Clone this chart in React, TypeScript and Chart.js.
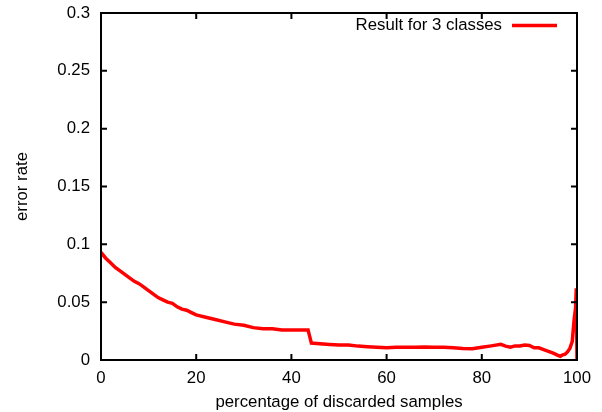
import React, { useEffect, useRef } from "react";
import { Chart, registerables } from "chart.js";

Chart.register(...registerables);

const discardedPct = [
  0, 1, 2, 3, 4, 5, 6, 7, 8, 9, 10, 11, 12, 13, 14, 15, 16, 17, 18, 19, 20,
  22, 24, 26, 28, 30, 32, 34, 36, 38, 40, 42, 43.5, 44.2, 46, 48, 50, 52, 54,
  56, 58, 60, 62, 64, 66, 68, 70, 72, 74, 76, 78, 80, 82, 84, 85, 86, 87, 88,
  89, 90, 91, 92, 93, 94, 95, 96, 96.5, 97, 97.5, 98, 98.5, 99, 99.4, 99.7,
  99.85, 100,
];

const errorRate = [
  0.093, 0.088, 0.084, 0.08, 0.077, 0.074, 0.071, 0.068, 0.066, 0.063, 0.06,
  0.057, 0.054, 0.052, 0.05, 0.049, 0.046, 0.044, 0.043, 0.041, 0.039, 0.037,
  0.035, 0.033, 0.031, 0.03, 0.028, 0.027, 0.027, 0.026, 0.026, 0.026, 0.026,
  0.0146, 0.014, 0.0135, 0.013, 0.013, 0.012, 0.0115, 0.011, 0.0105, 0.011,
  0.011, 0.011, 0.0112, 0.011, 0.011, 0.0105, 0.01, 0.0098, 0.011, 0.0122,
  0.0135, 0.012, 0.011, 0.0122, 0.0122, 0.013, 0.0125, 0.0105, 0.0105, 0.009,
  0.0075, 0.006, 0.004, 0.0032, 0.0045, 0.005, 0.007, 0.01, 0.016, 0.035,
  0.045, 0.062, 0,
];

const seriesLabel = "Result for 3 classes";
const xTitle = "percentage of discarded samples";
const yTitle = "error rate";

const FONT = "'Liberation Sans', Arial, sans-serif";
const FS = 16.8;

const framePlugin = {
  id: "gnuplotFrame",
  afterDatasetsDraw(chart: any) {
    const { ctx, chartArea: a, scales } = chart;
    ctx.save();
    ctx.strokeStyle = "#000";
    ctx.lineWidth = 2;
    ctx.strokeRect(a.left, a.top, a.right - a.left, a.bottom - a.top);
    const tl = 6;
    ctx.beginPath();
    scales.x.ticks.forEach((t: any) => {
      const px = scales.x.getPixelForValue(t.value);
      ctx.moveTo(px, a.bottom);
      ctx.lineTo(px, a.bottom - tl);
      ctx.moveTo(px, a.top);
      ctx.lineTo(px, a.top + tl);
    });
    scales.y.ticks.forEach((t: any) => {
      const py = scales.y.getPixelForValue(t.value);
      ctx.moveTo(a.left, py);
      ctx.lineTo(a.left + tl, py);
      ctx.moveTo(a.right, py);
      ctx.lineTo(a.right - tl, py);
    });
    ctx.stroke();
    // legend
    ctx.font = `${FS}px ${FONT}`;
    ctx.fillStyle = "#000";
    ctx.textAlign = "right";
    ctx.textBaseline = "middle";
    const ly = a.top + 12.5;
    ctx.fillText(seriesLabel, a.right - 75, ly);
    ctx.strokeStyle = "#ff0000";
    ctx.lineWidth = 3.5;
    ctx.beginPath();
    ctx.moveTo(a.right - 65, ly);
    ctx.lineTo(a.right - 20, ly);
    ctx.stroke();
    ctx.restore();
  },
};

export default function App() {
  const ref = useRef<HTMLCanvasElement | null>(null);
  useEffect(() => {
    if (!ref.current) return;
    const chart = new Chart(ref.current, {
      type: "line",
      data: {
        datasets: [
          {
            label: seriesLabel,
            data: discardedPct.map((x, i) => ({ x, y: errorRate[i] })),
            borderColor: "#ff0000",
            borderWidth: 3.5,
            pointRadius: 0,
            tension: 0,
            fill: false,
          },
        ],
      },
      options: {
        animation: false,
        responsive: false,
        maintainAspectRatio: false,
        layout: { padding: { top: 13, right: 25, left: 0, bottom: 0 } },
        plugins: { legend: { display: false }, tooltip: { enabled: false } },
        scales: {
          x: {
            type: "linear",
            min: 0,
            max: 100,
            grid: { display: false },
            border: { display: false },
            ticks: {
              stepSize: 20,
              color: "#000",
              font: { family: FONT, size: FS },
              padding: 0,
              maxRotation: 0,
            },
            title: {
              display: true,
              text: xTitle,
              color: "#000",
              font: { family: FONT, size: FS },
              padding: { top: 0, bottom: 0 },
            },
            afterFit(s: any) {
              s.height = 52;
              s.paddingLeft = 0;
              s.paddingRight = 0;
            },
          },
          y: {
            type: "linear",
            min: 0,
            max: 0.3,
            grid: { display: false },
            border: { display: false },
            ticks: {
              stepSize: 0.05,
              color: "#000",
              font: { family: FONT, size: FS },
              padding: 3,
              callback: (v: any) => String(+Number(v).toFixed(2)),
            },
            title: {
              display: true,
              text: yTitle,
              color: "#000",
              font: { family: FONT, size: FS },
              padding: { top: 12, bottom: 0 },
            },
            afterFit(s: any) {
              s.width = 101;
              s.paddingTop = 0;
              s.paddingBottom = 0;
            },
          },
        },
      },
      plugins: [framePlugin],
    });
    return () => chart.destroy();
  }, []);
  return (
    <div style={{ position: "fixed", left: 0, top: 0, width: 602, height: 412, background: "#fff" }}>
      <canvas ref={ref} width={602} height={412} style={{ display: "block" }} />
    </div>
  );
}
